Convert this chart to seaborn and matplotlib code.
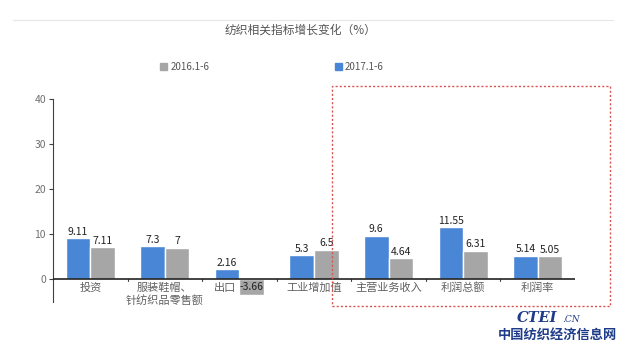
import pandas as pd
import seaborn as sns
import matplotlib.pyplot as plt
from matplotlib.patches import Rectangle
from matplotlib.lines import Line2D

# dati
categorie = ['投资', '服装鞋帽、\n针纺织品零售额', '出口', '工业增加值', '主营业务收入', '利润总额', '利润率']
val_2017 = [9.11, 7.3, 2.16, 5.3, 9.6, 11.55, 5.14]
val_2016 = [7.11, 7, -3.66, 6.5, 4.64, 6.31, 5.05]
serie = ['2017.1-6', '2016.1-6']
colori = {'2017.1-6': '#4a86d6', '2016.1-6': '#a6a6a6'}

df = pd.DataFrame({
    'cat': categorie * 2,
    'val': val_2017 + val_2016,
    'serie': [serie[0]] * len(categorie) + [serie[1]] * len(categorie),
})

sns.set_theme(style='white')
plt.rcParams['font.family'] = ['Noto Sans CJK SC', 'DejaVu Sans']

fig = plt.figure(figsize=(6.26, 3.51), dpi=100)
ax = fig.add_axes([0.0847, 0.141, 0.8338, 0.577])

sns.barplot(data=df, x='cat', y='val', hue='serie', hue_order=serie,
            palette=colori, width=0.66, saturation=1, ax=ax, legend=False)

ax.set_xlim(-0.5, 6.5)
ax.set_ylim(-5, 40)
ax.set_yticks([0, 10, 20, 30, 40])
ax.set_xlabel('')
ax.set_ylabel('')

for s in ['top', 'right', 'bottom']:
    ax.spines[s].set_visible(False)
ax.spines['left'].set_color('#404040')
ax.spines['left'].set_linewidth(0.8)
ax.axhline(0, color='#222222', lw=1.2, zorder=3)

ax.tick_params(axis='y', left=True, length=3, width=0.8, color='#404040',
               labelsize=7.5, labelcolor='#707070', pad=2)
ax.xaxis.set_ticks_position('none')
ax.set_xticks(range(len(categorie)))
ax.set_xticklabels([])

# etichette categorie vicino alla linea dello zero ("出口" spostato a sinistra della barra negativa)
for i, c in enumerate(categorie):
    xi = i - 0.19 if c == '出口' else i
    ax.text(xi, -0.8, c, ha='center', va='top', fontsize=8, color='#606060',
            linespacing=1.3, zorder=4)
# piccoli tick tra le categorie
for b in [0.5, 1.5, 2.5, 3.5, 4.5, 5.5]:
    ax.plot([b, b], [0, -0.45], color='#404040', lw=0.8, clip_on=False)

# valori sulle barre
for cont, vals in zip(ax.containers, [val_2017, val_2016]):
    for p, v in zip(cont.patches, vals):
        x = p.get_x() + p.get_width() / 2
        if v >= 0:
            ax.annotate(f'{v:g}', (x, v), xytext=(0, 1), textcoords='offset points',
                        ha='center', va='bottom', fontsize=7.5, color='#222222')
        else:
            ax.annotate(f'{v:g}', (x, v / 2), ha='center', va='center',
                        fontsize=7.5, color='#222222')

# titolo
fig.text(0.48, 0.915, '纺织相关指标增长变化（%）', ha='center', va='center',
         fontsize=8.5, color='#555555')
fig.add_artist(Line2D([0.02, 0.98], [0.943, 0.943], color='#e6e6e6', lw=0.8))

# legenda manuale
fig.add_artist(Rectangle((0.2555, 0.80), 0.011, 0.02, color=colori['2016.1-6']))
fig.text(0.272, 0.81, '2016.1-6', ha='left', va='center', fontsize=7, color='#555555')
fig.add_artist(Rectangle((0.535, 0.80), 0.011, 0.02, color=colori['2017.1-6']))
fig.text(0.551, 0.81, '2017.1-6', ha='left', va='center', fontsize=7, color='#555555')

# riquadro rosso tratteggiato
fig.add_artist(Rectangle((0.530, 0.128), 0.444, 0.627, fill=False,
                         edgecolor='#d9534f', lw=1, ls=(0, (1.5, 1.5))))

# logo
fig.text(0.858, 0.094, 'CTEI', ha='center', va='center', fontsize=10.5, color='#1f3c8a',
         fontweight='bold', style='italic', family='DejaVu Serif')
fig.text(0.912, 0.09, '.CN', ha='center', va='center', fontsize=6.5, color='#1f3c8a',
         style='italic', family='DejaVu Serif')
fig.text(0.89, 0.045, '中国纺织经济信息网', ha='center', va='center', fontsize=9.5,
         color='#1f3c8a', fontweight='bold')

plt.savefig('out.png', dpi=100)
plt.close()
